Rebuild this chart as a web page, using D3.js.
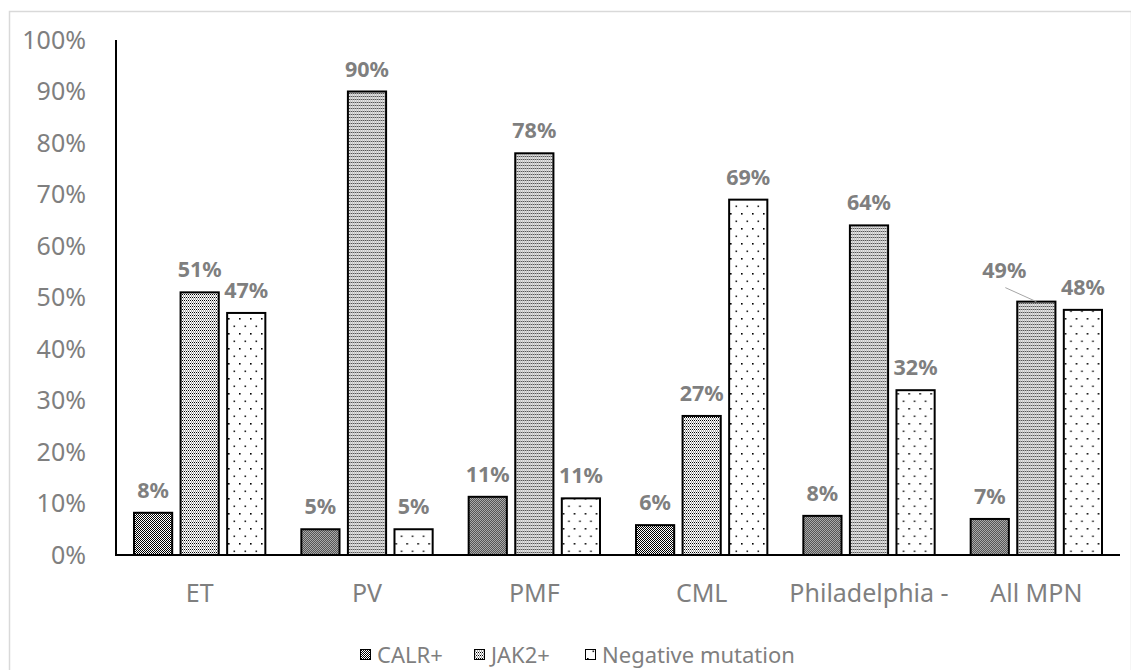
<!DOCTYPE html>
<html>
<head>
<meta charset="utf-8">
<script src="https://cdn.jsdelivr.net/npm/d3@7"></script>
<style>
  body { margin: 0; background: #fff; }
  svg { display: block; font-family: "Noto Sans", "Open Sans", sans-serif; }
</style>
</head>
<body>
<svg id="chart" width="1131" height="670"></svg>
<script>
// Données
const categories = ["ET", "PV", "PMF", "CML", "Philadelphia -", "All MPN"];
const series = ["CALR+", "JAK2+", "Negative mutation"];
const calr = [8.2, 5, 11.3, 5.8, 7.6, 7];
const jak2 = [51, 90, 78, 27, 64, 49.2];
const negative = [47, 5, 11, 69, 32, 47.6];
const labels = [
  ["8%", "51%", "47%"],
  ["5%", "90%", "5%"],
  ["11%", "78%", "11%"],
  ["6%", "27%", "69%"],
  ["8%", "64%", "32%"],
  ["7%", "49%", "48%"]
];
const yTicks = [0, 10, 20, 30, 40, 50, 60, 70, 80, 90, 100];

const svg = d3.select("#chart");
const W = 1131, H = 670;
const margin = { top: 40, right: 11, bottom: 115, left: 116 };
const gray = "#7f7f7f";

// Cadre du graphique
svg.append("rect")
  .attr("x", 9.5).attr("y", 11.5)
  .attr("width", W - 9).attr("height", H)
  .attr("fill", "#fff").attr("stroke", "#d9d9d9").attr("stroke-width", 1.5);

// Motifs de remplissage
const defs = svg.append("defs");

const pCalr = defs.append("pattern").attr("id", "p-calr")
  .attr("patternUnits", "userSpaceOnUse").attr("width", 2).attr("height", 2);
pCalr.append("rect").attr("width", 2).attr("height", 2).attr("fill", "#fff");
pCalr.append("rect").attr("width", 1).attr("height", 1).attr("fill", "#000");
pCalr.append("rect").attr("x", 1).attr("y", 1).attr("width", 1).attr("height", 1).attr("fill", "#000");

const pJak = defs.append("pattern").attr("id", "p-jak2")
  .attr("patternUnits", "userSpaceOnUse").attr("width", 2).attr("height", 3);
pJak.append("rect").attr("width", 2).attr("height", 3).attr("fill", "#fff");
pJak.append("rect").attr("width", 1).attr("height", 1).attr("fill", "#000");
pJak.append("rect").attr("x", 1).attr("y", 1.5).attr("width", 1).attr("height", 1).attr("fill", "#555");

const pNeg = defs.append("pattern").attr("id", "p-neg")
  .attr("patternUnits", "userSpaceOnUse").attr("width", 11).attr("height", 15);
pNeg.append("rect").attr("width", 11).attr("height", 15).attr("fill", "#fff");
pNeg.append("rect").attr("x", 2).attr("y", 3).attr("width", 1.6).attr("height", 1.6).attr("fill", "#000");
pNeg.append("rect").attr("x", 7.5).attr("y", 10.5).attr("width", 1.6).attr("height", 1.6).attr("fill", "#222");

const fills = ["url(#p-calr)", "url(#p-jak2)", "url(#p-neg)"];

// Échelles
const x0 = d3.scaleBand()
  .domain(categories)
  .range([margin.left, W - margin.right]);

const x1 = d3.scaleBand()
  .domain(series)
  .range([18, x0.bandwidth() - 18])
  .paddingInner(0.18);

const y = d3.scaleLinear()
  .domain([0, 100])
  .range([H - margin.bottom, margin.top]);

// Graduations de l'axe vertical
svg.append("g")
  .selectAll("text")
  .data(yTicks)
  .join("text")
  .attr("x", 86)
  .attr("y", d => y(d))
  .attr("dy", "0.35em")
  .attr("text-anchor", "end")
  .attr("font-size", 25)
  .attr("fill", gray)
  .text(d => d + "%");

// Barres
const rows = categories.map((c, i) => ({
  cat: c,
  vals: [calr[i], jak2[i], negative[i]],
  labs: labels[i]
}));

const grp = svg.append("g")
  .selectAll("g")
  .data(rows)
  .join("g")
  .attr("transform", d => `translate(${x0(d.cat)},0)`);

grp.selectAll("rect")
  .data(d => d.vals.map((v, j) => ({ s: series[j], v, j })))
  .join("rect")
  .attr("x", d => x1(d.s))
  .attr("y", d => y(d.v))
  .attr("width", x1.bandwidth())
  .attr("height", d => y(0) - y(d.v))
  .attr("fill", d => fills[d.j])
  .attr("stroke", "#000")
  .attr("stroke-width", 2);

// Étiquettes de données
grp.selectAll("text.lab")
  .data((d, i) => d.vals.map((v, j) => ({ s: series[j], v, j, t: d.labs[j], last: i === rows.length - 1 })))
  .join("text")
  .attr("class", "lab")
  .attr("x", d => x1(d.s) + x1.bandwidth() / 2 + (d.last && d.j === 1 ? -32 : 0))
  .attr("y", d => y(d.v) - (d.last && d.j === 1 ? 24 : 15))
  .attr("text-anchor", "middle")
  .attr("font-size", 21.5)
  .attr("font-weight", "bold")
  .attr("fill", gray)
  .text(d => d.t);

// Trait de rappel pour l'étiquette décalée (49%)
const last = rows[rows.length - 1];
svg.append("line")
  .attr("x1", x0(last.cat) + x1(series[1]) + x1.bandwidth() / 2 - 31)
  .attr("y1", y(last.vals[1]) - 14)
  .attr("x2", x0(last.cat) + x1(series[1]) + x1.bandwidth() / 2)
  .attr("y2", y(last.vals[1]))
  .attr("stroke", "#a6a6a6")
  .attr("stroke-width", 1);

// Axes
svg.append("line")
  .attr("x1", margin.left).attr("x2", margin.left)
  .attr("y1", y(100)).attr("y2", y(0))
  .attr("stroke", "#000").attr("stroke-width", 2);
svg.append("line")
  .attr("x1", margin.left - 1).attr("x2", W - margin.right)
  .attr("y1", y(0)).attr("y2", y(0))
  .attr("stroke", "#000").attr("stroke-width", 2);

// Libellés des catégories
svg.append("g")
  .selectAll("text")
  .data(categories)
  .join("text")
  .attr("x", d => x0(d) + x0.bandwidth() / 2)
  .attr("y", y(0) + 38)
  .attr("dy", "0.35em")
  .attr("text-anchor", "middle")
  .attr("font-size", 25)
  .attr("fill", gray)
  .text(d => d);

// Légende
const legX = [360, 474, 585];
const leg = svg.append("g")
  .selectAll("g")
  .data(series)
  .join("g")
  .attr("transform", (d, i) => `translate(${legX[i]},655)`);

leg.append("rect")
  .attr("x", 0.5).attr("y", -5.5)
  .attr("width", 10).attr("height", 10)
  .attr("fill", (d, i) => fills[i])
  .attr("stroke", "#000").attr("stroke-width", 1);

leg.append("text")
  .attr("x", 17)
  .attr("y", 0)
  .attr("dy", "0.35em")
  .attr("font-size", 22)
  .attr("fill", gray)
  .text(d => d);
</script>
</body>
</html>
